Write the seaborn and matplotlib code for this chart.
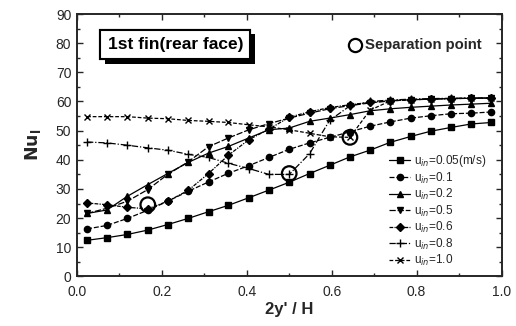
import matplotlib
matplotlib.use("Agg")
import matplotlib.pyplot as plt
import matplotlib.patheffects as pe
import seaborn as sns
import pandas as pd

# ---- data ----
x_pos = [0.024, 0.071, 0.119, 0.167, 0.214, 0.262, 0.310, 0.357, 0.405, 0.452, 0.500,
         0.548, 0.595, 0.643, 0.690, 0.738, 0.786, 0.833, 0.881, 0.929, 0.976]

nu_005 = [12.4, 13.3, 14.4, 15.9, 17.8, 19.9, 22.2, 24.4, 27.0, 29.6, 32.3,
          35.3, 38.1, 41.0, 43.3, 46.0, 48.0, 49.8, 51.1, 52.3, 52.8]
nu_01 = [16.3, 17.5, 19.9, 22.7, 25.8, 29.2, 32.4, 35.4, 38.0, 40.8, 43.6,
         45.8, 47.7, 49.6, 51.5, 53.0, 54.3, 55.1, 55.8, 56.0, 56.4]
nu_02 = [21.6, 22.8, 27.5, 31.5, 35.3, 39.1, 42.3, 44.6, 47.5, 50.3, 50.9,
         53.2, 54.3, 55.5, 56.8, 57.5, 58.0, 58.4, 58.8, 59.1, 59.4]
nu_05 = [21.6, 23.4, 25.8, 29.8, 35.0, 39.3, 44.5, 47.5, 50.3, 52.4, 54.3,
         56.0, 57.5, 58.6, 59.5, 60.2, 60.6, 60.8, 61.0, 61.1, 61.3]
nu_06 = [25.2, 24.6, 23.7, 23.2, 25.8, 29.5, 35.3, 41.6, 46.9, 50.5, 54.6,
         56.5, 57.9, 58.9, 59.7, 60.3, 60.6, 60.8, 61.0, 61.1, 61.1]
nu_08 = [46.1, 45.8, 45.0, 44.1, 43.3, 41.9, 40.8, 38.8, 37.0, 35.0, 35.0,
         42.1, 53.5, 58.5, 60.0, 60.5, 60.8, 61.0, 61.1, 61.2, 61.2]
nu_10 = [54.8, 54.8, 54.8, 54.3, 54.1, 53.5, 53.2, 52.8, 52.0, 51.3, 50.3,
         49.1, 47.9, 47.7, 57.0, 60.2, 60.6, 60.8, 61.0, 61.1, 61.2]

series_labels = ["u$_{in}$=0.05(m/s)", "u$_{in}$=0.1", "u$_{in}$=0.2", "u$_{in}$=0.5",
                 "u$_{in}$=0.6", "u$_{in}$=0.8", "u$_{in}$=1.0"]

sep_x = [0.167, 0.500, 0.643]
sep_y = [24.6, 35.3, 47.7]

x_ticks = [0.0, 0.2, 0.4, 0.6, 0.8, 1.0]
y_ticks = [0, 10, 20, 30, 40, 50, 60, 70, 80, 90]

# ---- styling ----
sns.set_style("ticks")
plt.rcParams['font.family'] = ['Liberation Sans', 'DejaVu Sans']

fig = plt.figure(figsize=(5.16, 3.26), dpi=100)
ax = fig.add_axes([0.149, 0.152, 0.823, 0.805])

all_series = [nu_005, nu_01, nu_02, nu_05, nu_06, nu_08, nu_10]
markers = ['s', 'o', '^', 'v', 'D', '+', 'x']
msizes = [4.2, 4.5, 4.8, 4.8, 3.8, 5.5, 5.0]
lstyles = ['-', (0, (4, 1.5)), '-', (0, (5, 1.5)), (0, (3, 1, 1, 1)), (0, (5, 1.5, 1, 1.5)), (0, (3, 1.5))]

for vals, lab, mk, ms, ls in zip(all_series, series_labels, markers, msizes, lstyles):
    df = pd.DataFrame({"x": x_pos, "Nu": vals})
    sns.lineplot(data=df, x="x", y="Nu", ax=ax, color="black", linewidth=0.9,
                 marker=mk, markersize=ms, markeredgecolor="black", markerfacecolor="black",
                 markeredgewidth=1.0, label=lab, linestyle=ls)

sns.scatterplot(x=sep_x, y=sep_y, ax=ax, marker='o', s=110, facecolor='none',
                edgecolor='black', linewidth=1.6, zorder=5, legend=False)

# axes
ax.set_xlim(0, 1.0)
ax.set_ylim(0, 90)
ax.set_xticks(x_ticks)
ax.set_xticklabels([f"{t:.1f}" for t in x_ticks])
ax.set_yticks(y_ticks)
ax.set_xticks([0.1, 0.3, 0.5, 0.7, 0.9], minor=True)
ax.set_yticks([5, 15, 25, 35, 45, 55, 65, 75, 85], minor=True)
ax.tick_params(which='both', direction='in', top=True, right=True, width=1.0)
ax.tick_params(which='major', length=4, labelsize=10)
ax.tick_params(axis='x', which='major', pad=6)
ax.tick_params(axis='y', which='major', pad=4)
ax.tick_params(which='minor', length=2)
for sp in ax.spines.values():
    sp.set_linewidth(1.4)
ax.set_xlabel("2y' / H", fontsize=12, fontweight='bold', labelpad=2)
ax.set_ylabel(r"$\mathbf{Nu}_\mathbf{l}$", fontsize=12.5, labelpad=9)

# title box with shadow
t = ax.text(0.232, 79.6, "1st fin(rear face)", fontsize=12.5, fontweight='bold', color='black',
            ha='center', va='center',
            bbox=dict(boxstyle='square,pad=0.42', facecolor='white', edgecolor='black', linewidth=1.5),
            zorder=7)
t.get_bbox_patch().set_path_effects([
    pe.withSimplePatchShadow(offset=(3.5, -3.5), shadow_rgbFace='black', alpha=1.0),
    pe.Normal()])

# separation point key
ax.plot([0.655], [79.5], marker='o', markersize=9.5, markerfacecolor='none',
        markeredgecolor='black', markeredgewidth=1.6, linestyle='none')
ax.text(0.678, 79.5, "Separation point", fontsize=10.7, fontweight='bold', va='center', ha='left')

leg = ax.legend(loc='upper left', bbox_to_anchor=(0.736, 0.47), frameon=False,
                fontsize=8.5, handlelength=1.75, handletextpad=0.35, labelspacing=0.12,
                borderaxespad=0, borderpad=0)

fig.savefig("out.png", dpi=100)
